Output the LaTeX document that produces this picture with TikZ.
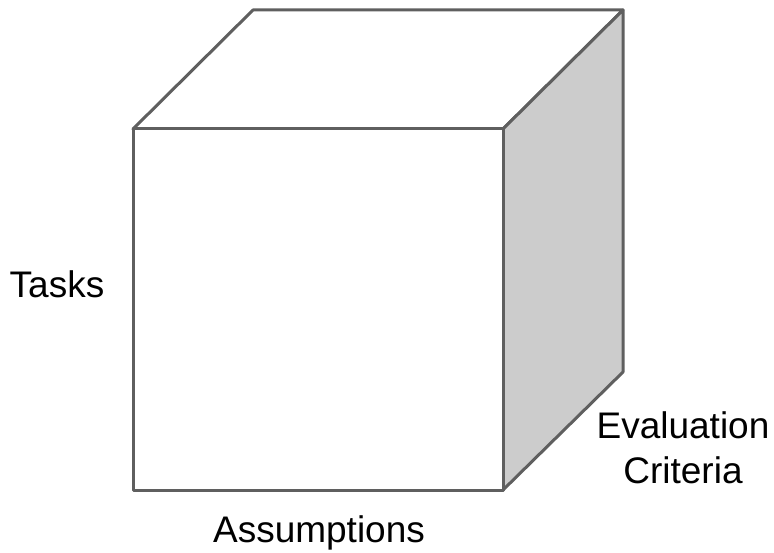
\documentclass[tikz,border=0pt]{standalone}
\usepackage{fontspec}
\setmainfont{Liberation Sans}
\begin{document}
\begin{tikzpicture}[x=1pt,y=-1pt,
  edge/.style={draw=cubeline,line width=3pt,line join=round},
  lbl/.style={font=\fontsize{37}{45}\selectfont,text=black,inner sep=0pt,anchor=base,align=center}]
\definecolor{cubeline}{HTML}{5F5F5F}
\definecolor{sidegray}{HTML}{CCCCCC}
\useasboundingbox (0,0) rectangle (774,553);
\coordinate (ftl) at (133,129);
\coordinate (ftr) at (503,129);
\coordinate (fbl) at (133,490);
\coordinate (fbr) at (503,490);
\coordinate (btl) at (253,10);
\coordinate (btr) at (623,10);
\coordinate (bbr) at (623,372);
% top face
\filldraw[edge,fill=white] (ftl) -- (btl) -- (btr) -- (ftr) -- cycle;
% side face
\filldraw[edge,fill=sidegray] (ftr) -- (btr) -- (bbr) -- (fbr) -- cycle;
% front face
\filldraw[edge,fill=white] (ftl) -- (ftr) -- (fbr) -- (fbl) -- cycle;
\node[lbl] (tasks) at (57,298) {Tasks};
\node[lbl] (eval) at (683,438) {Evaluation};
\node[lbl] (crit) at (683,483) {Criteria};
\node[lbl] (assum) at (319,542) {Assumptions};
\end{tikzpicture}
\end{document}
